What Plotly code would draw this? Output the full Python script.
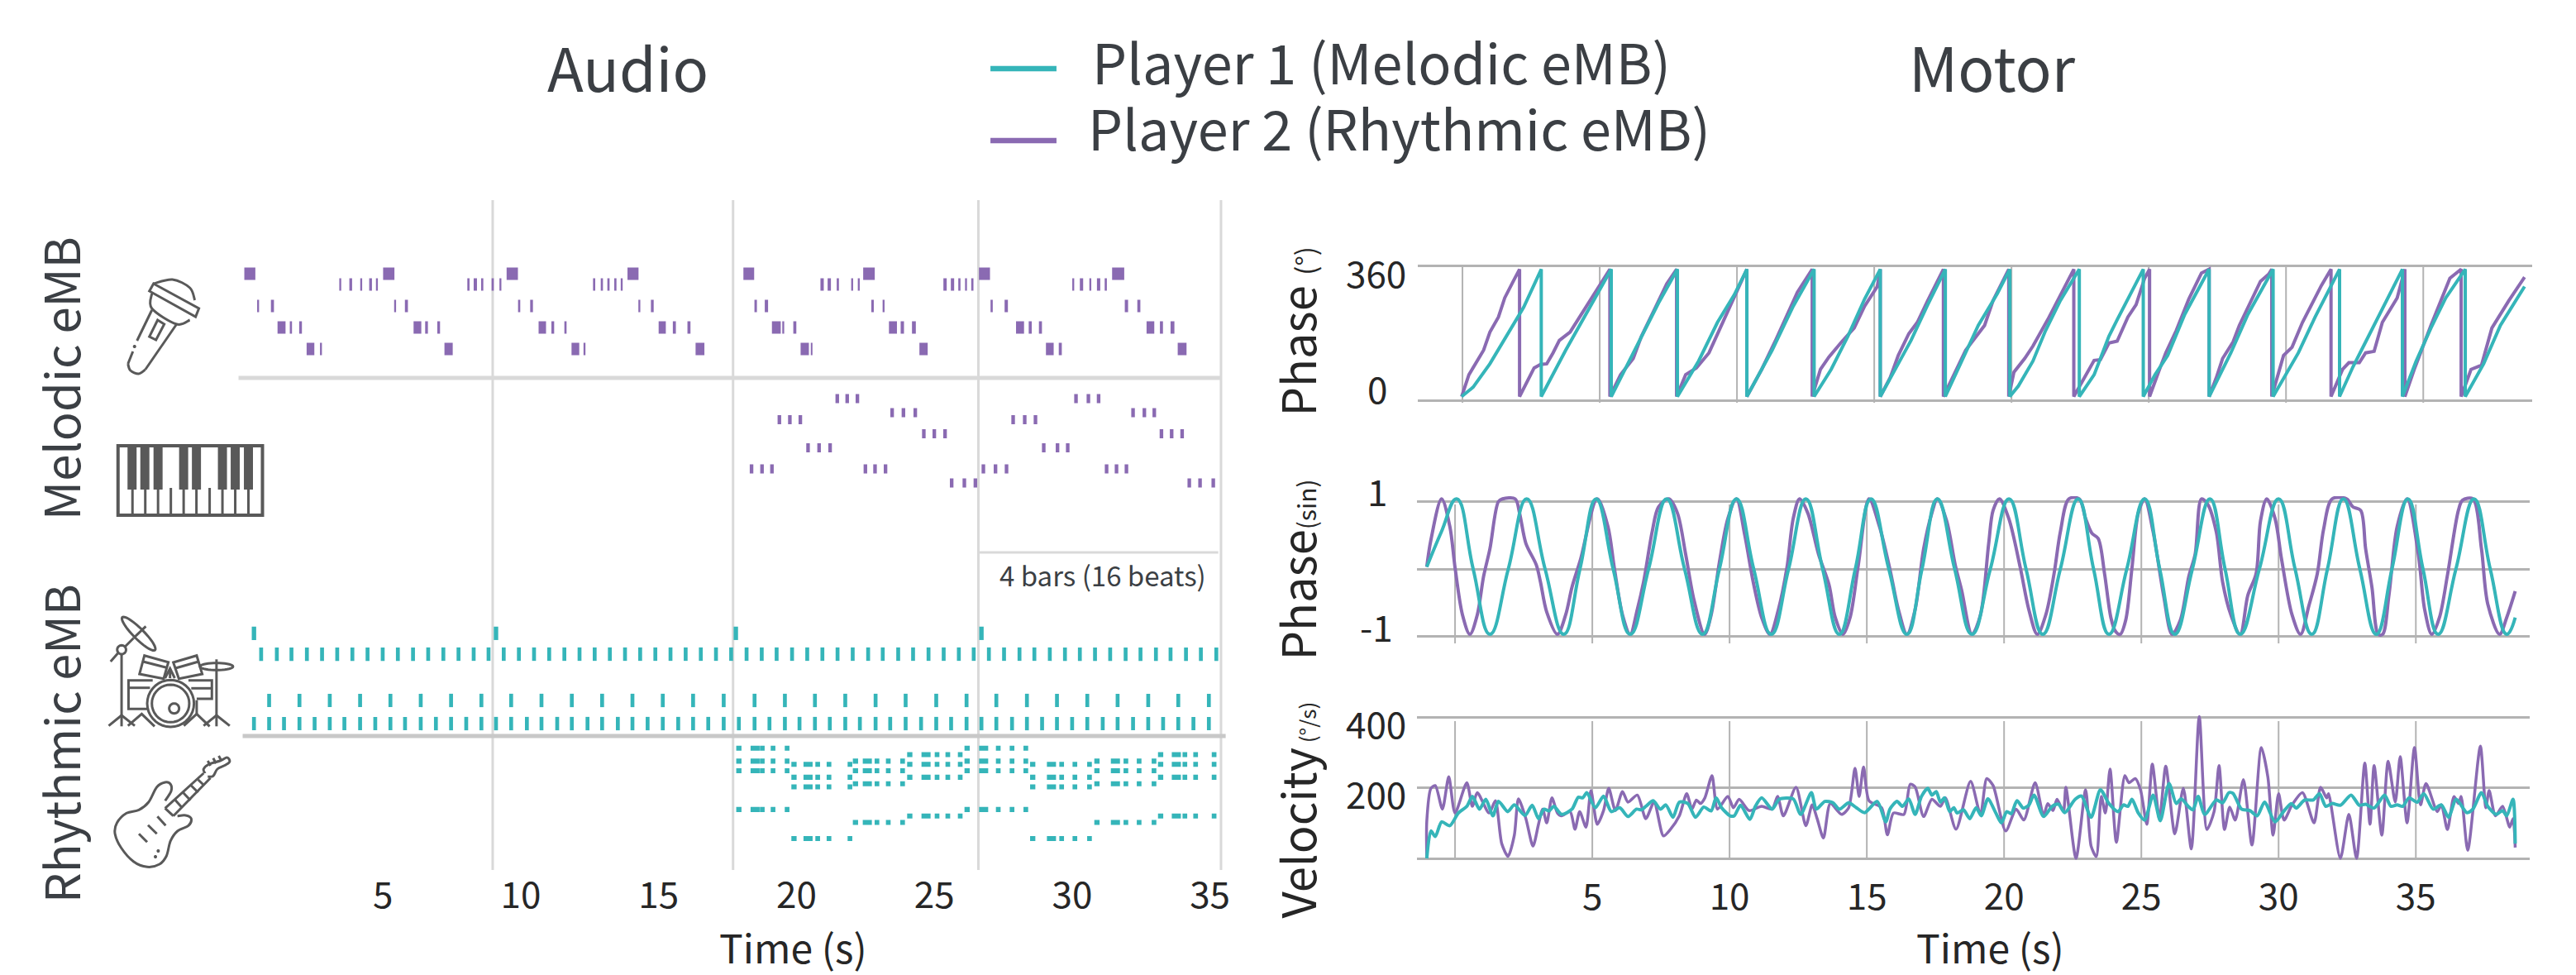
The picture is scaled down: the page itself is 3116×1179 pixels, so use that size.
import math
import plotly.graph_objects as go

W, H = 3116, 1179
FONT = "Noto Sans CJK SC"
PURPLE = "#8a6ab2"
TEAL = "#35b5b9"
INK = "#3b3f44"
TICK = "#262626"
ICON = "#595959"
GRID = "#b3b3b3"
SOFT = "#d9d9d9"

# ---------- Audio panel: notes as (centre time s, duration s) per pitch row ----------
VOICE_ROW_7 = [(0.17,.40),(5.21,.41),(9.69,.41),(14.07,.40),(18.27,.39),(22.63,.42),(26.82,.40),(31.67,.44)]
VOICE_ROW_6 = [(3.45,.07),(3.83,.10),(4.21,.07),(4.55,.10),(4.78,.07),(8.10,.08),(8.35,.12),(8.60,.08),(8.98,.08),(9.26,.07),
               (12.66,.08),(12.94,.08),(13.18,.08),(13.43,.08),(13.66,.07),(20.93,.12),(21.19,.12),(21.50,.08),(22.02,.07),(22.26,.07),
               (25.39,.12),(25.66,.12),(25.91,.08),(26.15,.07),(26.38,.08),(30.04,.07),(30.34,.12),(30.66,.07),(30.96,.12),(31.22,.08)]
VOICE_ROW_4 = [(0.47,.07),(0.99,.11),(5.44,.07),(5.85,.11),(9.94,.08),(10.39,.10),(14.30,.07),(14.77,.10),(18.52,.09),(18.91,.12),
               (22.76,.09),(23.16,.07),(27.08,.08),(27.61,.12),(31.97,.12),(32.42,.11)]
VOICE_ROW_2 = [(1.32,.29),(1.66,.08),(2.01,.10),(6.25,.28),(6.58,.10),(7.02,.10),(10.78,.27),(11.16,.10),(11.62,.08),(15.13,.26),(15.57,.11),(16.10,.11),
               (19.27,.32),(19.52,.07),(19.94,.11),(23.50,.29),(23.84,.12),(24.26,.14),(28.11,.29),(28.48,.11),(28.85,.11),(32.84,.28),(33.24,.11),(33.64,.14)]
VOICE_ROW_0 = [(2.37,.28),(2.75,.07),(7.38,.30),(11.98,.28),(12.31,.07),(16.50,.32),(20.30,.30),(20.55,.06),(24.61,.30),(29.19,.28),(29.57,.11),(33.99,.32)]

PIANO_ROW_12 = [21.48,21.84,22.21,30.14,30.59,30.96]
PIANO_ROW_10 = [23.47,23.88,24.31,32.21,32.62,32.98]
PIANO_ROW_9 = [19.38,19.76,20.14,27.86,28.28,28.67]
PIANO_ROW_7 = [24.62,25.00,25.39,33.24,33.61,33.99]
PIANO_ROW_5 = [20.42,20.82,21.22,28.97,29.47,29.84]
PIANO_ROW_2 = [18.37,18.75,19.11,22.50,22.85,23.23,26.78,27.22,27.62,31.25,31.61,31.97]
PIANO_ROW_0 = [25.63,26.09,26.49,34.25,34.64,35.12]

DRUM_CRASH = [0.32,9.10,17.80,26.71]
DRUM_HAT = [0.58,1.15,1.68,2.24,2.79,3.34,3.89,4.44,4.99,5.54,6.09,6.64,7.19,7.74,8.29,8.83,9.38,9.93,10.48,11.03,11.58,12.13,12.68,13.23,13.78,14.33,14.88,
            15.43,15.98,16.53,17.08,17.63,18.19,18.74,19.28,19.84,20.39,20.94,21.49,22.04,22.60,23.13,23.69,24.23,24.79,25.34,25.89,26.43,26.98,27.53,28.09,28.63,29.19,29.74,30.28,30.83,31.38,31.94,32.48,33.04,33.57,34.13,34.67,35.23]
DRUM_SNARE = [0.87,1.97,3.07,4.17,5.27,6.37,7.47,8.57,9.65,10.75,11.85,12.95,14.05,15.15,16.25,17.36,18.48,19.58,20.67,21.77,22.87,23.96,25.07,26.17,27.25,28.36,29.45,30.55,31.65,32.76,33.85,34.96]
DRUM_KICK = [0.32,0.87,1.41,1.97,2.52,3.07,3.60,4.17,4.72,5.27,5.80,6.37,6.92,7.47,8.02,8.57,9.10,9.65,10.22,10.75,11.32,11.85,12.42,12.95,13.52,14.05,14.60,
             15.15,15.71,16.25,16.80,17.36,17.91,18.48,19.02,19.58,20.11,20.67,21.21,21.77,22.30,22.87,23.40,23.96,24.52,25.07,25.61,26.17,26.71,27.25,27.82,28.36,28.91,29.45,30.00,30.55,31.11,31.65,32.21,32.76,33.30,33.85,34.40,34.96]

CHORD_A = [28,24,21,9]
CHORD_B = [23,19,16,0]
CHORD_C = [24,21,17,5]
CHORD_D = [26,23,19,7]
GUITAR_DURS = [.19,.33,.17,.17,.17]
GUITAR_BARS = [
    (CHORD_A,[17.91,18.50,18.76,19.15,19.66]),
    (CHORD_B,[19.91,20.42,20.77,21.18,21.94]),
    (CHORD_C,[22.14,22.57,22.92,23.33,23.85]),
    (CHORD_D,[24.11,24.70,25.10,25.49,25.94]),
    (CHORD_A,[26.19,26.79,27.32,27.82,28.32]),
    (CHORD_B,[28.57,29.25,29.62,30.10,30.63]),
    (CHORD_C,[30.90,31.57,31.95,32.43,32.97]),
    (CHORD_D,[33.21,33.78,34.09,34.48,35.15]),
]
AUDIO_GRID = [8.98,17.7,26.6,35.4]
AUDIO_TICKS = [5,10,15,20,25,30,35]

# ---------- Motor panel ----------
MOTOR_GRID = [0,5,10,15,20,25,30,35]
MOTOR_TICKS = [5,10,15,20,25,30,35]

PHASE_T_1 = [-.03,.39,1.0,1.77,2.23,2.87,2.87,3.76,4.68,5.42,5.42,6.37,7.14,7.83,7.83,8.60,9.29,9.90,10.36,10.36,11.28,12.05,12.81,12.81,13.43,14.04,14.65,15.22,15.22,15.875,16.34,16.95,17.59,17.59,18.18,18.79,19.48,19.94,19.94,20.25,20.78,21.24,21.78,22.47,22.47,23.01,23.55,23.85,24.80,24.80,25.23,25.69,26.31,27.20,27.20,27.53,27.99,28.61,29.53,29.53,29.99,30.45,31.06,31.95,31.95,32.44,32.90,33.51,34.24,34.24,34.74,35.28,35.82,36.53,36.53,37.20,37.81,38.69]
PHASE_V_1 = [12,37,99,194,249,350,12,135,256,350,12,150,260,350,12,106,209,282,350,12,135,252,350,12,84,172,271,350,12,99,161,256,350,12,106,201,285,350,12,40,106,187,267,350,12,70,172,216,350,12,70,121,230,350,12,62,128,230,350,12,70,128,223,350,12,91,157,245,350,12,106,194,274,350,12,99,201,304]
PHASE_T_2 = [-.03,.235,.77,1.0,1.31,1.54,1.85,2.08,2.08,2.38,2.61,2.84,3.07,3.30,3.53,3.92,4.30,4.68,5.37,5.37,5.76,6.22,6.52,6.98,7.44,7.80,7.80,8.13,8.52,8.98,9.44,9.90,10.36,10.36,10.90,11.43,12.20,12.74,12.74,13.04,13.35,13.81,14.27,14.65,15.11,15.22,15.22,15.58,15.875,16.26,16.57,16.95,17.52,17.52,18.33,18.56,19.02,19.33,19.90,19.90,20.09,20.48,20.78,21.32,21.78,22.27,22.27,22.70,23.01,23.24,23.55,23.85,24.24,24.54,24.85,25.03,25.03,25.39,25.62,26.00,26.46,26.92,27.20,27.20,27.46,27.69,28.07,28.30,29.07,29.37,29.48,29.48,29.91,30.22,30.60,31.29,31.64,31.64,32.06,32.29,32.67,32.90,33.21,33.51,34.05,34.33,34.33,34.67,35.28,35.97,36.38,36.38,36.74,37.12,37.50,38.12,38.69]
PHASE_V_2 = [12,70,135,183,223,274,318,350,12,55,88,97,99,128,161,183,227,274,350,12,70,113,172,241,311,350,12,70,88,128,201,274,350,12,84,165,289,350,12,84,117,157,194,252,304,350,12,62,121,179,209,267,350,12,135,157,201,267,350,12,77,113,146,216,282,350,12,70,108,110,154,159,223,256,326,350,12,84,128,187,271,340,350,12,62,113,157,201,318,337,350,12,121,143,209,307,350,12,84,102,102,128,132,209,274,350,12,84,201,326,350,12,84,95,194,267,329]

SIN_T_1 = [-1.03,-.5,.06,.66,1.27,1.94,2.61,3.28,3.96,4.55,5.14,5.76,6.38,7.05,7.71,8.36,9.02,9.63,10.25,10.88,11.52,12.15,12.78,13.39,14.00,14.58,15.15,15.80,16.46,17.01,17.57,18.20,18.83,19.50,20.18,20.80,21.41,22.05,22.70,23.26,23.82,24.47,25.12,25.67,26.22,26.86,27.50,28.05,28.60,29.30,30.00,30.60,31.21,31.78,32.36,32.96,33.56,34.13,34.71,35.26,35.81,36.46,37.12,37.71,38.31,38.62]
SIN_V_1 = [.03,.55,1.04,0,-.97,0,1.04,0,-.97,0,1.04,0,-.97,0,1.04,0,-.97,0,1.04,0,-.97,0,1.04,0,-.97,0,1.04,0,-.97,0,1.04,0,-.97,0,1.04,0,-.97,0,1.04,0,-.97,0,1.04,0,-.97,0,1.04,0,-.97,0,1.04,0,-.97,0,1.04,0,-.97,0,1.04,0,-.97,0,1.04,0,-.97,-.72]
SIN_T_2 = [-1.03,-.88,-.49,-.19,0,.27,.54,.81,1.04,1.27,1.58,1.73,2.19,2.35,2.58,2.96,3.11,3.34,3.73,4.03,4.26,4.57,5.18,5.57,5.80,6.10,6.38,6.64,6.87,7.18,7.41,7.79,8.10,8.40,8.71,9.09,9.33,9.63,9.94,10.25,10.55,10.86,11.17,11.47,11.78,12.09,12.32,12.55,12.85,13.24,13.62,13.85,14.13,14.39,14.69,15.08,15.46,15.85,16.15,16.46,16.76,17.07,17.37,17.57,17.91,18.22,18.45,18.83,19.14,19.44,19.60,19.83,20.17,20.59,20.90,21.21,21.52,21.82,22.05,22.36,22.74,22.97,23.20,23.43,23.66,23.89,24.05,24.23,24.43,24.66,24.89,25.12,25.43,25.81,26.12,26.42,26.73,26.96,27.19,27.42,27.73,27.96,28.26,28.60,28.88,29.18,29.34,29.57,29.87,30.11,30.49,30.80,31.10,31.41,31.64,31.95,32.48,32.71,32.99,33.17,33.40,33.63,33.79,34.02,34.32,34.68,35.09,35.32,35.58,35.86,36.16,36.55,36.70,37.08,37.39,37.62,38.05,38.31,38.62]
SIN_V_2 = [.03,.43,1.04,.63,.02,-.68,-.97,-.68,-.11,.30,1.0,1.04,1.04,.83,.38,.06,-.19,-.64,-.97,-.68,-.27,.14,1.04,.63,.02,-.68,-.97,-.60,-.19,.55,.92,1.04,.83,.22,-.47,-.97,-.68,.10,.75,1.04,.51,-.19,-.72,-.97,-.60,.02,.75,1.04,.83,.22,-.23,-.72,-.97,-.72,.06,1.04,.63,-.02,-.60,-.97,-.60,.30,.83,1.04,.71,.06,-.31,-.97,-.68,.38,.87,1.04,.75,.02,-.60,-.97,-.68,-.07,.55,1.04,1.04,.75,.53,.45,-.07,-.72,-.92,-.97,-.76,.02,.83,1.04,.55,-.39,-.97,-.76,-.11,.22,1.04,.96,.55,-.19,-.68,-.97,-.39,-.07,.71,1.04,.75,.14,-.68,-.97,-.55,-.07,.59,1.04,1.04,.92,.87,.30,-.27,-.97,-.97,-.39,.63,1.04,.22,-.60,-.97,-.72,-.07,.87,1.02,1.04,.30,-.52,-.97,-.72,-.33]

VEL_T_1 = [-1.03,-.88,-.72,-.49,-.19,.12,.43,.63,.89,1.12,1.38,1.58,1.92,2.16,2.55,2.81,3.04,3.24,3.42,3.60,3.88,4.26,4.49,4.65,4.80,5.11,5.41,5.69,6.00,6.30,6.61,6.79,6.95,7.22,7.48,7.68,7.94,8.17,8.48,8.76,9.06,9.33,9.51,9.71,10.02,10.17,10.40,10.74,10.94,11.17,11.55,11.81,12.32,12.59,12.98,13.16,13.47,13.77,14.00,14.34,14.62,14.92,15.38,15.69,15.84,16.10,16.30,16.53,16.76,16.99,17.22,17.37,17.53,17.68,17.83,18.02,18.17,18.29,18.52,18.75,18.98,19.17,19.41,19.70,19.90,20.10,20.26,20.47,20.70,20.90,21.09,21.44,21.75,21.98,22.21,22.59,22.82,23.17,23.51,23.82,24.15,24.35,24.51,24.66,24.89,25.12,25.43,25.69,26.01,26.27,26.45,26.73,26.88,27.07,27.31,27.73,27.96,28.19,28.34,28.65,28.95,29.22,29.49,29.87,30.18,30.46,30.64,30.95,31.26,31.49,31.72,31.95,32.25,32.64,32.94,33.17,33.48,33.86,34.09,34.32,34.52,34.75,35.05,35.29,35.63,35.93,36.19,36.47,36.86,37.08,37.39,37.62,37.93,38.16,38.31,38.54,38.62]
VEL_V_1 = [0,78,62,104,93,129,148,176,140,168,121,162,133,152,122,151,113,140,135,148,125,140,174,172,187,144,177,133,144,119,140,138,148,164,140,152,117,160,156,117,146,135,172,144,121,121,151,111,148,172,140,168,169,125,187,140,162,158,140,158,144,130,162,104,140,162,148,169,125,176,199,180,190,160,172,133,144,129,138,113,144,121,169,129,101,133,127,164,143,151,180,119,148,154,130,168,177,117,195,156,133,152,148,168,129,109,180,107,213,156,169,146,138,176,125,166,158,187,185,140,136,121,160,104,133,156,143,166,166,184,148,156,151,180,151,154,143,180,148,152,148,172,160,184,140,152,117,168,130,140,187,148,125,136,121,168,42]
VEL_T_2 = [-1.03,-1.03,-.88,-.72,-.46,-.23,0,.43,.63,.81,1.24,1.47,1.70,1.93,2.16,2.31,2.58,2.84,3.04,3.19,3.34,3.53,3.73,3.88,4.19,4.37,4.54,4.77,4.95,5.18,5.41,5.60,5.84,6.10,6.30,6.64,6.95,7.25,7.59,7.84,8.17,8.44,8.63,8.79,8.94,9.10,9.36,9.56,9.94,10.14,10.35,10.71,11.17,11.55,11.75,11.96,12.42,12.78,13.01,13.19,13.42,13.67,14.08,14.34,14.57,14.72,14.88,15.08,15.54,15.75,15.97,16.35,16.58,16.76,17.07,17.37,17.68,17.86,18.25,18.78,19.14,19.37,19.60,20.06,20.44,20.72,21.13,21.44,21.59,21.78,21.93,22.16,22.25,22.62,22.97,23.17,23.36,23.54,23.69,23.86,24.09,24.40,24.55,24.78,24.97,25.20,25.40,25.66,25.89,26.22,26.53,26.82,27.11,27.39,27.65,27.83,28.03,28.22,28.42,28.72,29.03,29.37,29.61,29.80,30.00,30.20,30.49,30.87,31.29,31.53,31.75,31.82,32.25,32.56,32.84,33.14,33.33,33.48,33.76,33.99,34.25,34.43,34.68,34.95,35.17,35.37,35.78,35.93,36.15,36.39,36.55,36.65,36.89,37.35,37.55,37.67,37.90,38.16,38.42,38.54,38.62]
VEL_V_2 = [0,105,199,207,140,232,129,215,148,187,129,164,42,6,66,169,113,35,97,140,101,172,129,121,133,83,133,89,193,97,136,199,136,190,160,180,113,160,64,82,121,184,140,166,156,172,235,140,176,144,168,136,148,140,176,121,202,93,152,113,58,156,125,144,256,176,260,164,144,67,129,125,211,203,119,168,148,172,83,219,125,227,207,78,140,109,215,121,156,136,168,133,202,0,195,35,5,176,129,254,46,235,215,227,195,97,268,113,262,70,199,27,403,82,133,264,82,146,109,224,38,315,231,66,184,109,152,187,101,202,172,184,0,125,0,271,97,264,66,276,160,289,101,315,152,213,133,152,82,176,156,176,23,319,144,193,121,148,89,113,31]

fig = go.Figure()


def fx(px):
    return px / W


def fy(px):
    return 1 - px / H


def add_notes(rows, color, yaxis, height):
    ys, base, dur = [], [], []
    for pitch, notes in rows:
        for c, d in notes:
            ys.append(pitch)
            base.append(c - d / 2)
            dur.append(d)
    fig.add_trace(go.Bar(y=ys, x=dur, base=base, orientation="h", width=height, marker=dict(color=color, line=dict(width=0)),
                         xaxis="x", yaxis=yaxis, showlegend=False, hoverinfo="skip"))


def fixed(times, d):
    return [(t, d) for t in times]


add_notes([(7, VOICE_ROW_7), (6, VOICE_ROW_6), (4, VOICE_ROW_4), (2, VOICE_ROW_2), (0, VOICE_ROW_0)], PURPLE, "y", 1.15)
add_notes([(12, fixed(PIANO_ROW_12, .13)), (10, fixed(PIANO_ROW_10, .13)), (9, fixed(PIANO_ROW_9, .13)), (7, fixed(PIANO_ROW_7, .13)),
           (5, fixed(PIANO_ROW_5, .13)), (2, fixed(PIANO_ROW_2, .13)), (0, fixed(PIANO_ROW_0, .13))], PURPLE, "y2", 1.3)
add_notes([(3.9, fixed(DRUM_CRASH, .16)), (3, fixed(DRUM_HAT, .14)), (1, fixed(DRUM_SNARE, .14)), (0, fixed(DRUM_KICK, .14))], TEAL, "y3", .58)
guitar_rows = []
for chord, times in GUITAR_BARS:
    for p in chord:
        guitar_rows.append((p, list(zip(times, GUITAR_DURS))))
add_notes(guitar_rows, TEAL, "y4", 1.55)


def add_line(t, v, color, xa, ya, width, name=None, smoothing=None):
    line = dict(color=color, width=width)
    if smoothing:
        line.update(shape="spline", smoothing=smoothing)
    fig.add_trace(go.Scatter(x=t, y=v, mode="lines", line=line, xaxis=xa, yaxis=ya, showlegend=False, name=name, hoverinfo="skip"))


add_line(PHASE_T_2, PHASE_V_2, PURPLE, "x2", "y5", 4, "Player 2 (Rhythmic eMB)")
add_line(PHASE_T_1, PHASE_V_1, TEAL, "x2", "y5", 4, "Player 1 (Melodic eMB)")
add_line(SIN_T_2, SIN_V_2, PURPLE, "x3", "y6", 4, "Player 2 (Rhythmic eMB)", 0.9)
add_line(SIN_T_1, SIN_V_1, TEAL, "x3", "y6", 4, "Player 1 (Melodic eMB)", 1.3)
add_line(VEL_T_2, VEL_V_2, PURPLE, "x4", "y7", 3.5, "Player 2 (Rhythmic eMB)", 0.7)
add_line(VEL_T_1, VEL_V_1, TEAL, "x4", "y7", 4, "Player 1 (Melodic eMB)", 0.7)
fig.add_trace(go.Scatter(x=[0], y=[0], mode="markers", marker=dict(opacity=0), xaxis="x5", yaxis="y8", showlegend=False, hoverinfo="skip"))

# ---------- shapes in pixel space (x5/y8 spans the whole page) ----------
shapes = []


def pline(x0, y0, x1, y1, color, width, layer="below", xref="x5", yref="y8"):
    shapes.append(dict(type="line", x0=x0, y0=y0, x1=x1, y1=y1, xref=xref, yref=yref, layer=layer, line=dict(color=color, width=width)))


for t in AUDIO_GRID:
    pline(t, 242, t, 1052, SOFT, 3, yref="y8", xref="x")
pline(289, 457, 1480, 457, SOFT, 5)
pline(294, 890, 1485, 890, "#c8c8c8", 5)
pline(1184, 668, 1476, 668, SOFT, 3)
for t in MOTOR_GRID:
    pline(t, 320, t, 487, GRID, 2, xref="x2")
    pline(t, 610, t, 778, GRID, 2, xref="x3")
    pline(t, 872, t, 1038, GRID, 2, xref="x4")
pline(1200, 83, 1280, 83, TEAL, 6.5)
pline(1200, 170, 1280, 170, PURPLE, 6.5)


def path(d, width=3, fill=None, color=ICON):
    s = dict(type="path", path=d, xref="x5", yref="y8", layer="above", line=dict(color=color, width=width))
    if fill:
        s["fillcolor"] = fill
    shapes.append(s)


def poly(pts, closed=False, tr=None, width=3):
    if tr:
        pts = [tr(p) for p in pts]
    d = "M" + " L".join(f"{x:.1f},{y:.1f}" for x, y in pts) + (" Z" if closed else "")
    path(d, width)


def smooth(pts, closed=False, tr=None, width=3):
    if tr:
        pts = [tr(p) for p in pts]
    n = len(pts)
    d = f"M{pts[0][0]:.1f},{pts[0][1]:.1f}"
    rng = range(n if closed else n - 1)
    for i in rng:
        p0 = pts[(i - 1) % n] if closed or i > 0 else pts[i]
        p1 = pts[i]
        p2 = pts[(i + 1) % n]
        p3 = pts[(i + 2) % n] if closed or i + 2 < n else pts[i + 1]
        c1 = (p1[0] + (p2[0] - p0[0]) / 6, p1[1] + (p2[1] - p0[1]) / 6)
        c2 = (p2[0] - (p3[0] - p1[0]) / 6, p2[1] - (p3[1] - p1[1]) / 6)
        d += f" C{c1[0]:.1f},{c1[1]:.1f} {c2[0]:.1f},{c2[1]:.1f} {p2[0]:.1f},{p2[1]:.1f}"
    if closed:
        d += " Z"
    path(d, width)


def ellipse(cx, cy, rx, ry, rot=0, tr=None, width=3):
    a = math.radians(rot)
    pts = []
    for i in range(36):
        u = 2 * math.pi * i / 36
        x, y = rx * math.cos(u), ry * math.sin(u)
        pts.append((cx + x * math.cos(a) - y * math.sin(a), cy + x * math.sin(a) + y * math.cos(a)))
    poly(pts, True, tr, width)


def z12(p):
    return (100 + p[0] / 3, 700 + p[1] / 3)


# drums
ellipse(204, 199, 84, 19, 45, z12)
for seg in [[(185, 215), (230, 172)], [(102, 300), (128, 270)], [(155, 245), (185, 215)], [(142, 275), (142, 535)],
            [(95, 533), (142, 495), (190, 533)], [(220, 300), (305, 322)], [(335, 325), (422, 300)],
            [(300, 360), (318, 325), (335, 360)], [(318, 325), (318, 360)], [(255, 368), (167, 368), (167, 472), (235, 472)],
            [(167, 395), (245, 395)], [(385, 368), (470, 368), (470, 435), (415, 435)], [(395, 397), (470, 397)],
            [(165, 533), (215, 490), (262, 535)], [(368, 533), (415, 490), (462, 535)], [(415, 440), (415, 490)],
            [(487, 292), (487, 535)], [(440, 533), (487, 495), (535, 533)]]:
    poly(seg, False, z12)
ellipse(142, 257, 16, 16, 0, z12)
poly([(225, 278), (312, 302), (295, 362), (207, 345)], True, z12)
poly([(330, 303), (415, 278), (435, 345), (350, 362)], True, z12)
ellipse(320, 452, 85, 85, 0, z12)
ellipse(320, 452, 68, 68, 0, z12)
ellipse(333, 470, 18, 18, 0, z12)
ellipse(487, 318, 60, 13, 0, z12)

# guitar
smooth([(300, 805), (322, 770), (320, 745), (300, 738), (270, 755), (240, 810), (205, 838), (160, 850), (125, 885), (118, 925), (140, 975),
        (185, 1025), (235, 1045), (280, 1035), (305, 1005), (320, 950), (345, 915), (385, 895), (395, 870), (375, 858), (345, 860)], False, z12)
for seg in [[(300, 832), (440, 705)], [(330, 860), (465, 722)], [(300, 832), (330, 860)], [(335, 800), (360, 828)], [(365, 775), (392, 803)],
            [(395, 750), (420, 775)], [(420, 728), (440, 748)], [(455, 660), (465, 678)], [(475, 650), (485, 670)], [(495, 642), (505, 660)],
            [(205, 925), (235, 955)], [(238, 893), (270, 925)], [(272, 862), (302, 895)]]:
    poly(seg, False, z12)
smooth([(445, 705), (440, 690), (460, 672), (500, 660), (525, 648), (535, 662), (520, 675), (490, 690), (475, 715), (455, 718)], False, z12)
ellipse(275, 987, 3, 3, 0, z12, 2)
ellipse(265, 1008, 3, 3, 0, z12, 2)

# microphone
poly([(186, 343), (241, 373), (237, 383), (181, 352)], True)
smooth([(186, 343), (209, 338), (230, 348), (236, 363)])
smooth([(184, 355), (184, 373), (214, 392), (230, 387)])
poly([(184, 375), (166, 412)])
poly([(161, 425), (155, 440)])
smooth([(155, 440), (158, 448), (168, 452), (176, 447)])
poly([(176, 447), (214, 392)])
poly([(191, 387), (199, 392), (189, 411), (181, 407)], True)
ellipse(163, 419, 1, 1, 0, None, 2)

# keyboard
shapes.append(dict(type="rect", x0=143, x1=318, y0=539, y1=623, xref="x5", yref="y8", layer="above", line=dict(color=ICON, width=4)))
for k in [160, 175.5, 191.5, 222.5, 238, 269.5, 285, 301]:
    shapes.append(dict(type="rect", x0=k - 5.5, x1=k + 5.5, y0=540, y1=592, xref="x5", yref="y8", layer="above", fillcolor=ICON, line=dict(width=0)))
for k in [160.5, 176, 191.5, 207, 222.5, 238, 254, 269.5, 285, 301]:
    pline(k, 590, k, 622, ICON, 3, layer="above")

# ---------- text ----------
ann = []


def text(s, x, y, size, color=INK, angle=0, anchor="center"):
    ann.append(dict(text=s, x=x, y=y, xref="x5", yref="y8", showarrow=False, xanchor=anchor, yanchor="middle", textangle=angle,
                    font=dict(family=FONT, size=size, color=color)))


text("Audio", 761, 79, 72)
text("Motor", 2414, 79, 73)
text("Player 1 (Melodic eMB)", 1321, 73, 66.5, anchor="left")
text("Player 2 (Rhythmic eMB)", 1316, 153, 66.5, anchor="left")
text("Melodic eMB", 72, 457, 58, angle=-90)
text("Rhythmic eMB", 72, 899, 57.5, angle=-90)
text('Phase <span style="font-size:33px">(°)</span>', 1570, 401, 56, TICK, angle=-90)
text('Phase<span style="font-size:30px">(sin)</span>', 1570, 689, 56, TICK, angle=-90)
text('Velocity<span style="font-size:26px"> (°/s)</span>', 1570, 979, 56, TICK, angle=-90)
text("4 bars (16 beats)", 1336, 695, 33)
text("Time (s)", 961, 1144, 48, TICK)
text("Time (s)", 2411, 1144, 48, TICK)
for s, x, y in [("360", 1667, 329), ("0", 1669, 469), ("1", 1669, 593), ("-1", 1668, 757), ("400", 1667, 874), ("200", 1667, 959)]:
    text(s, x, y, 44, TICK)

hidden = dict(visible=False, fixedrange=True)
ticks = dict(showgrid=False, zeroline=False, showline=False, ticks="outside", tickcolor="rgba(0,0,0,0)", ticklen=6,
             tickfont=dict(family=FONT, size=44, color=TICK), fixedrange=True)
plain_x = dict(showgrid=False, zeroline=False, showline=False, showticklabels=False, ticks="", fixedrange=True)


def yreal(vals):
    return dict(showgrid=True, gridcolor=GRID, gridwidth=3, zeroline=False, showline=False, showticklabels=False, ticks="",
                tickmode="array", tickvals=vals, fixedrange=True)


fig.update_layout(
    width=W, height=H, margin=dict(l=0, r=0, t=0, b=0), paper_bgcolor="white", plot_bgcolor="rgba(0,0,0,0)",
    barmode="overlay", showlegend=False, shapes=shapes, annotations=ann, font=dict(family=FONT),
    xaxis=dict(domain=[fx(289), fx(1485)], range=[-.24, 35.57], anchor="y4", tickmode="array", tickvals=AUDIO_TICKS, **ticks),
    yaxis=dict(domain=[fy(450), fy(320)], range=[-2.15, 7.85], anchor="x", **hidden),
    yaxis2=dict(domain=[fy(600), fy(470)], range=[-1.88, 13.41], anchor="x", **hidden),
    yaxis3=dict(domain=[fy(885), fy(755)], range=[-.357, 4.286], anchor="x", **hidden),
    yaxis4=dict(domain=[fy(1038), fy(895)], range=[-6.15, 30.5], anchor="x", **hidden),
    xaxis2=dict(domain=[fx(1718), fx(3068)], range=[-1.62, 38.97], anchor="y5", **plain_x),
    yaxis5=dict(domain=[fy(489), fy(318)], range=[-8.8, 366.6], anchor="x2", **yreal([0, 360])),
    xaxis3=dict(domain=[fx(1717), fx(3065)], range=[-1.38, 39.15], anchor="y6", **plain_x),
    yaxis6=dict(domain=[fy(778), fy(600)], range=[-1.104, 1.08], anchor="x3", **yreal([-1, 0, 1])),
    xaxis4=dict(domain=[fx(1717), fx(3065)], range=[-1.38, 39.15], anchor="y7", tickmode="array", tickvals=MOTOR_TICKS, **ticks),
    yaxis7=dict(domain=[fy(1040), fy(864)], range=[-4.7, 409], anchor="x4", **yreal([0, 200, 400])),
    xaxis5=dict(domain=[0, 1], range=[0, W], anchor="y8", **hidden),
    yaxis8=dict(domain=[0, 1], range=[H, 0], anchor="x5", **hidden),
)
fig.write_html("out.html", config={"displayModeBar": False}, post_script="document.body.style.margin='0';")
